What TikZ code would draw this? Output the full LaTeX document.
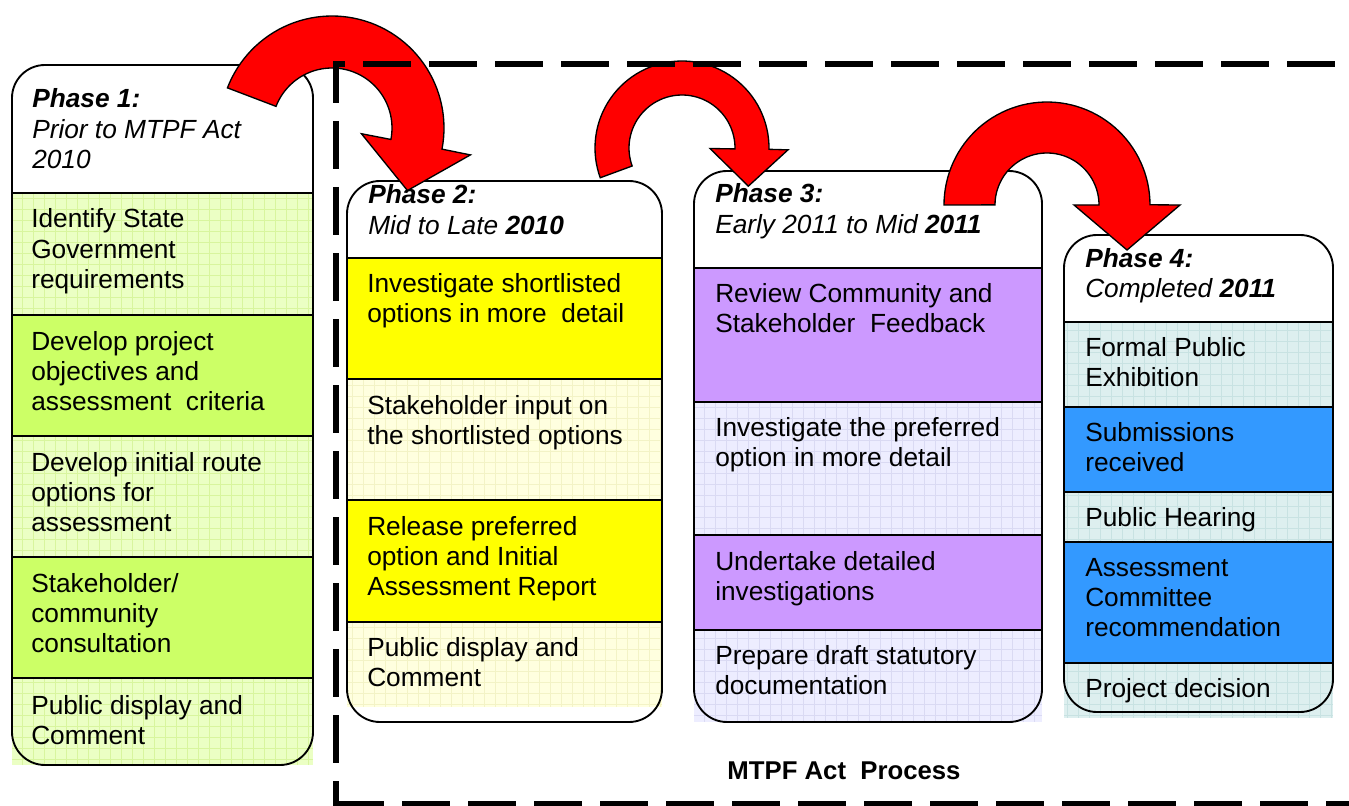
\documentclass[tikz,border=0pt]{standalone}
\usepackage{fontspec}
\setmainfont{Liberation Sans}
\usetikzlibrary{calc}
\definecolor{gA}{HTML}{EBFFC4}
\definecolor{gAgrid}{HTML}{D8F59E}
\definecolor{gB}{HTML}{CCFF66}
\definecolor{yA}{HTML}{FFFFDF}
\definecolor{yAgrid}{HTML}{F3F3C6}
\definecolor{yB}{HTML}{FFFF00}
\definecolor{pA}{HTML}{EDEDFF}
\definecolor{pAgrid}{HTML}{DADAF3}
\definecolor{pB}{HTML}{CC99FF}
\definecolor{bA}{HTML}{DDEFEF}
\definecolor{bAgrid}{HTML}{C8E2E2}
\definecolor{bB}{HTML}{3399FF}
\newcommand\ptxt[1]{\parbox[t]{12cm}{\fontsize{19.7}{22.7}\selectfont #1}}
\newcommand\gridcell[6]{%
  \fill[#5] (#1,#2) rectangle (#3,#4);
  \begin{scope}
    \clip (#1,#2) rectangle (#3,#4);
    \draw[#6,line width=0.45pt] foreach \gx in {0,11,...,1342}{(\gx,#2)--(\gx,#4)};
    \draw[#6,line width=0.45pt] foreach \gy in {0,11,...,803}{(#1,\gy)--(#3,\gy)};
  \end{scope}}
\newcommand\drawbent{%
  \filldraw[redarrow] plot[domain=0:1,samples=60] ({\arcx+\arRo*cos(\arTa+\x*(\arTb-\arTa))},{\arcy+\arRo*sin(\arTa+\x*(\arTb-\arTa))})
   -- ({\arcx+\arHo*cos(\arTb)},{\arcy+\arHo*sin(\arTb)})
   -- ({\arcx+\arTip*cos(\arTb)-\arLen*sin(\arTb)},{\arcy+\arTip*sin(\arTb)+\arLen*cos(\arTb)})
   -- ({\arcx+\arHi*cos(\arTb)},{\arcy+\arHi*sin(\arTb)})
   -- plot[domain=0:1,samples=60] ({\arcx+\arRi*cos(\arTb-\x*(\arTb-\arTa))},{\arcy+\arRi*sin(\arTb-\x*(\arTb-\arTa))})
   -- cycle;}
\begin{document}
\begin{tikzpicture}[x=0.75pt,y=-0.75pt,
  txt/.style={anchor=base west,inner sep=0pt},
  divider/.style={line width=1.8pt},
  outline/.style={draw=black,line width=1.4pt,rounded corners=24.75pt},
  redarrow/.style={fill=red,draw=black,line width=1pt,line join=miter},
  dashborder/.style={line width=4.6pt,dash pattern=on 36pt off 13.5pt,line join=miter}]
\useasboundingbox (0,0) rectangle (1349,806);

% ---------- Box 1 ----------
\gridcell{12}{193}{313}{315}{gA}{gAgrid}
\fill[gB] (12,315) rectangle (313,436);
\gridcell{12}{436}{313}{557}{gA}{gAgrid}
\fill[gB] (12,557) rectangle (313,678);
\gridcell{12}{678}{313}{765}{gA}{gAgrid}
\foreach \yy in {193,315,436,557,678}{\draw[divider] (12,\yy)--(313,\yy);}
\draw[outline] (12,65) rectangle (313,765);
\node[txt] (h1) at (32,108) {\ptxt{\textbf{\textit{Phase 1:}}\\\textit{Prior to MTPF Act}\\\textit{2010}}};
\node[txt] (c11) at (31,228) {\ptxt{Identify State\\Government\\requirements}};
\node[txt] (c12) at (31,350) {\ptxt{Develop project\\objectives and\\assessment\ \ criteria}};
\node[txt] (c13) at (31,471) {\ptxt{Develop initial route\\options for\\assessment}};
\node[txt] (c14) at (31,592) {\ptxt{Stakeholder/\\community\\consultation}};
\node[txt] (c15) at (31,714) {\ptxt{Public display and\\Comment}};

% ---------- Box 2 ----------
\fill[yB] (347,258) rectangle (662,379);
\gridcell{347}{379}{662}{500}{yA}{yAgrid}
\fill[yB] (347,500) rectangle (662,622);
\gridcell{347}{622}{662}{707}{yA}{yAgrid}
\foreach \yy in {258,379,500,622}{\draw[divider] (347,\yy)--(662,\yy);}
\draw[outline] (347,181) rectangle (662,722);
\node[txt] (h2) at (368,204) {\ptxt{\textbf{\textit{Phase 2:}}\\\textit{Mid to Late \textbf{2010}}}};
\node[txt] (c21) at (367,292) {\ptxt{Investigate shortlisted\\options in more\ \ detail}};
\node[txt] (c22) at (367,414) {\ptxt{Stakeholder input on\\the shortlisted options}};
\node[txt] (c23) at (367,535) {\ptxt{Release preferred\\option and Initial\\Assessment Report}};
\node[txt] (c24) at (367,656) {\ptxt{Public display and\\Comment}};

% ---------- Box 3 ----------
\fill[pB] (694,268) rectangle (1042,402);
\gridcell{694}{402}{1042}{535}{pA}{pAgrid}
\fill[pB] (694,535) rectangle (1042,630);
\gridcell{694}{630}{1042}{722}{pA}{pAgrid}
\foreach \yy in {268,402,535,630}{\draw[divider] (694,\yy)--(1042,\yy);}
\draw[outline] (694,171) rectangle (1042,722);
\node[txt] (h3) at (715,203) {\ptxt{\textbf{\textit{Phase 3:}}\\\textit{Early 2011 to Mid \textbf{2011}}}};
\node[txt] (c31) at (715,302) {\ptxt{Review Community and\\Stakeholder\ \ Feedback}};
\node[txt] (c32) at (715,436) {\ptxt{Investigate the preferred\\option in more detail}};
\node[txt] (c33) at (715,570) {\ptxt{Undertake detailed\\investigations}};
\node[txt] (c34) at (715,664) {\ptxt{Prepare draft statutory\\documentation}};

% ---------- Box 4 ----------
\gridcell{1064}{322}{1333}{407}{bA}{bAgrid}
\fill[bB] (1064,407) rectangle (1333,492);
\gridcell{1064}{492}{1333}{542}{bA}{bAgrid}
\fill[bB] (1064,542) rectangle (1333,663);
\gridcell{1064}{663}{1333}{718}{bA}{bAgrid}
\foreach \yy in {322,407,492,542,663}{\draw[divider] (1064,\yy)--(1333,\yy);}
\draw[outline] (1064,235) rectangle (1333,712);
\node[txt] (h4) at (1085,267) {\ptxt{\textbf{\textit{Phase 4:}}\\\textit{Completed \textbf{2011}}}};
\node[txt] (c41) at (1085,356) {\ptxt{Formal Public\\Exhibition}};
\node[txt] (c42) at (1085,441) {\ptxt{Submissions\\received}};
\node[txt] (c43) at (1085,526) {\ptxt{Public Hearing}};
\node[txt] (c44) at (1085,576) {\ptxt{Assessment\\Committee\\recommendation}};
\node[txt] (c45) at (1085,697) {\ptxt{Project decision}};

% ---------- Red curved arrows ----------
\def\arcx{332}\def\arcy{128}\def\arRo{112}\def\arRi{60}\def\arTa{201}\def\arTb{371}
\def\arHi{30}\def\arHo{141}\def\arTip{86}\def\arLen{47}
\drawbent
\def\arcx{682}\def\arcy{148}\def\arRo{87}\def\arRi{53}\def\arTa{160}\def\arTb{361}
\def\arHi{28}\def\arHo{106}\def\arTip{67}\def\arLen{37}
\drawbent
\def\arcx{1047}\def\arcy{205}\def\arRo{103}\def\arRi{52}\def\arTa{180}\def\arTb{360}
\def\arHi{27}\def\arHo{133}\def\arTip{80}\def\arLen{45}
\drawbent

% ---------- Dashed process border ----------
\draw[dashborder] (363,64) -- (1360,64);
\draw[dashborder] (345,64) -- (336,64) -- (336,806);
\draw[dashborder] (336,804) -- (1360,804);

\node[anchor=base,inner sep=0pt,font=\bfseries\fontsize{19.3}{22}\selectfont] (proc) at (844,779) {MTPF Act\ \ Process};
\end{tikzpicture}
\end{document}
